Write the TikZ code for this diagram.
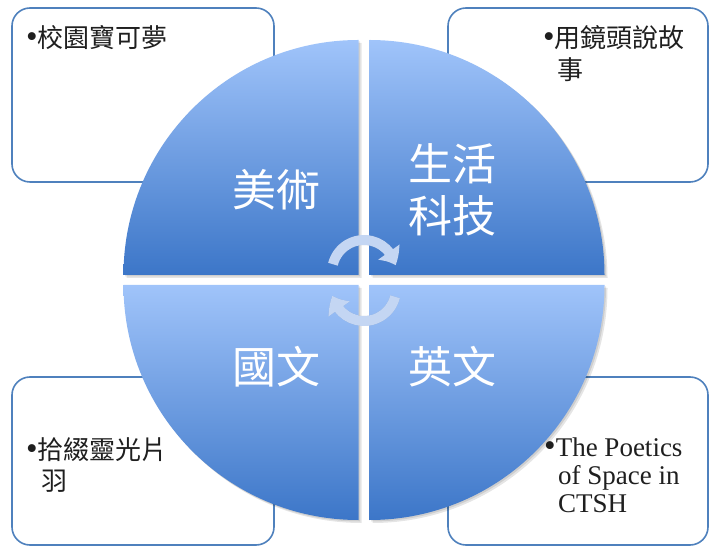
\documentclass[tikz,border=0pt]{standalone}
\usepackage{fontspec}
\setmainfont{Liberation Serif}
\newfontfamily\cjk{Noto Sans CJK TC}
\usetikzlibrary{arrows.meta,bending}
\definecolor{qtop}{RGB}{160,196,250}
\definecolor{qbot}{RGB}{60,118,200}
\definecolor{boxline}{RGB}{79,129,189}
\definecolor{arrowc}{RGB}{196,214,243}
\newcommand{\bul}{{\fontsize{33}{30}\selectfont •}}
\begin{document}
\begin{tikzpicture}[x=1pt,y=1pt,
  sidebox/.style={draw=boxline, line width=1.6pt, fill=white, rounded corners=18pt},
  quad/.style={top color=qtop, bottom color=qbot, draw=none},
  qshadow/.style={fill=black, fill opacity=0.10, draw=none},
  qlabel/.style={text=white, font=\cjk\fontsize{44}{52}\selectfont, inner sep=0pt},
  cjkitem/.style={font=\fontsize{26}{30}\selectfont, inner sep=0pt, text=black!88},
  latitem/.style={font=\fontsize{27}{28}\selectfont, inner sep=0pt, text=black!88},
  cyc/.style={draw=arrowc, line width=10pt, -{Triangle[length=15pt,width=25pt,bend]}},
  cycshadow/.style={draw=black, opacity=0.12, line width=10pt, -{Triangle[length=15pt,width=25pt,bend]}}
]
\useasboundingbox (0,0) rectangle (709,546);
% side boxes
\draw[sidebox] (12,364) rectangle (274,538);
\draw[sidebox] (448,364) rectangle (708,538);
\draw[sidebox] (12,1) rectangle (274,169);
\draw[sidebox] (448,1) rectangle (708,169);
% quadrant shadows
\foreach \s in {1.5,3} {
\fill[qshadow, shift={(\s,-\s)}] (358.5,271) -- ++(-235,0) arc[start angle=180,end angle=90,radius=235] -- cycle;
\fill[qshadow, shift={(\s,-\s)}] (369.5,271) -- ++(0,235) arc[start angle=90,end angle=0,radius=235] -- cycle;
\fill[qshadow, shift={(\s,-\s)}] (358.5,261) -- ++(-235,0) arc[start angle=180,end angle=270,radius=235] -- cycle;
\fill[qshadow, shift={(\s,-\s)}] (369.5,261) -- ++(235,0) arc[start angle=0,end angle=-90,radius=235] -- cycle;
}
% quadrants
\path[quad] (358.5,271) -- ++(-235,0) arc[start angle=180,end angle=90,radius=235] -- cycle;
\path[quad] (369.5,271) -- ++(0,235) arc[start angle=90,end angle=0,radius=235] -- cycle;
\path[quad] (358.5,261) -- ++(-235,0) arc[start angle=180,end angle=270,radius=235] -- cycle;
\path[quad] (369.5,261) -- ++(235,0) arc[start angle=0,end angle=-90,radius=235] -- cycle;
% quadrant labels
\node[qlabel] (art) at (276,356) {美術};
\node[qlabel] (life1) at (452,382) {生活};
\node[qlabel] (life2) at (452,330) {科技};
\node[qlabel] (chin) at (276,179) {國文};
\node[qlabel] (eng) at (452,179) {英文};
% box texts
\node[cjkitem, anchor=west] (tl1) at (26,508) {\bul{\cjk 校園寶可夢}};
\node[cjkitem, anchor=west] (tr1) at (543,508) {\bul{\cjk 用鏡頭說故}};
\node[cjkitem, anchor=west] (tr2) at (557,476) {{\cjk 事}};
\node[cjkitem, anchor=west] (bl1) at (26,96) {\bul{\cjk 拾綴靈光片}};
\node[cjkitem, anchor=west] (bl2) at (41,65) {{\cjk 羽}};
\node[latitem, anchor=base west] (br1) at (544,89) {\bul The Poetics};
\node[latitem, anchor=base west] (br2) at (558,61) {of Space in};
\node[latitem, anchor=base west] (br3) at (558,34) {CTSH};
% cycle arrows
\coordinate (cu) at (364,274);
\coordinate (cl) at (364,257);
\draw[cycshadow, shift={(1,-2.5)}] ([shift={(166:32)}]cu) arc[start angle=166,end angle=12,radius=32];
\draw[cycshadow, shift={(1,-2.5)}] ([shift={(-14:32)}]cl) arc[start angle=-14,end angle=-168,radius=32];
\draw[cyc] ([shift={(166:32)}]cu) arc[start angle=166,end angle=12,radius=32];
\draw[cyc] ([shift={(-14:32)}]cl) arc[start angle=-14,end angle=-168,radius=32];
\end{tikzpicture}
\end{document}
